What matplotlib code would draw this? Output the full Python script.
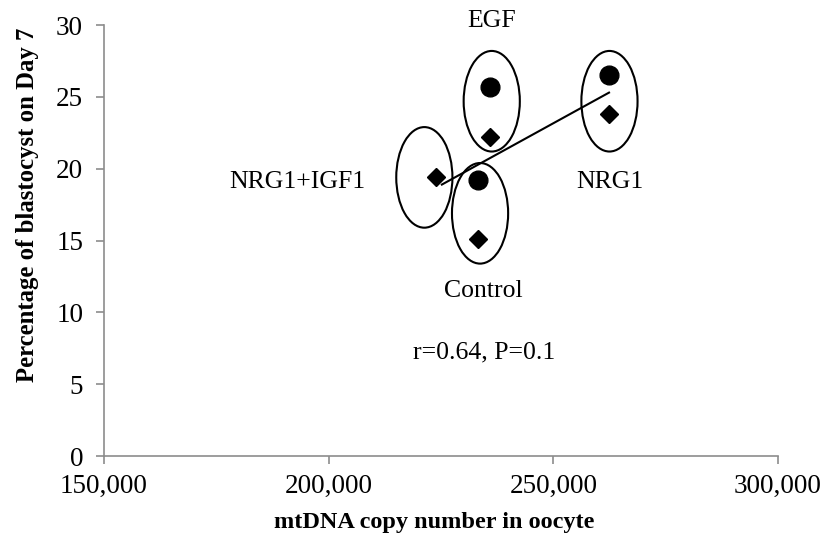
import numpy as np
import matplotlib
matplotlib.use("Agg")
import matplotlib.pyplot as plt
from matplotlib.patches import Ellipse
from matplotlib.ticker import FuncFormatter

# group data
groups = ["NRG1+IGF1", "EGF", "Control", "NRG1"]
mtdna = [223900, 236000, 233300, 262300]
circle_y = [None, 25.7, 19.2, 26.5]
diamond_y = [19.4, 22.2, 15.1, 23.8]

# ellipses drawn round each group (centre x, centre y)
ell_x = [221300, 236300, 233700, 262500]
ell_y = [19.4, 24.7, 16.9, 24.7]
ell_w = 12500
ell_h = 7.0

# trend line end points
trend_x = [225200, 262400]
trend_y = [18.9, 25.3]

# label positions
label_x = [193000, 236300, 234500, 262600]
label_y = [19.1, 30.3, 11.5, 19.1]

plt.rcParams['font.family'] = ['Liberation Serif', 'DejaVu Serif']

fig = plt.figure(figsize=(8.25, 5.45), dpi=100)
ax = fig.add_axes([0.126, 0.163, 0.817, 0.791])

for i in range(len(groups)):
    ax.add_patch(Ellipse((ell_x[i], ell_y[i]), ell_w, ell_h, fill=False,
                         edgecolor='black', linewidth=1.5, zorder=2))

ax.plot(trend_x, trend_y, color='black', linewidth=1.5, zorder=3)

cx = [mtdna[i] for i in range(len(groups)) if circle_y[i] is not None]
cy = [c for c in circle_y if c is not None]
ax.plot(cx, cy, 'o', color='black', markersize=13.5, linestyle='none', zorder=4)
ax.plot(mtdna, diamond_y, 'D', color='black', markersize=9, linestyle='none', zorder=4)

for i in range(len(groups)):
    ax.text(label_x[i], label_y[i], groups[i], ha='center', va='center',
            fontsize=18.5, clip_on=False)

ax.text(234500, 7.2, "r=0.64, P=0.1", ha='center', va='center', fontsize=18.5)

ax.set_xlim(150000, 300000)
ax.set_ylim(0, 30)
ax.set_xticks([150000, 200000, 250000, 300000])
ax.set_yticks([0, 5, 10, 15, 20, 25, 30])
ax.xaxis.set_major_formatter(FuncFormatter(lambda v, p: f"{int(v):,}"))

for s in ['top', 'right']:
    ax.spines[s].set_visible(False)
for s in ['left', 'bottom']:
    ax.spines[s].set_color('#8c8c8c')
    ax.spines[s].set_linewidth(1.2)
ax.tick_params(axis='both', direction='out', length=6, width=1.2, color='#8c8c8c',
               labelsize=19.5)
ax.tick_params(axis='x', pad=7)
ax.tick_params(axis='y', pad=9)

ax.set_xlabel("mtDNA copy number in oocyte", fontsize=17.5, fontweight='bold')
ax.set_ylabel("Percentage of blastocyst on Day 7", fontsize=17.8, fontweight='bold', labelpad=12)
ax.xaxis.set_label_coords(0.49, -0.13)
ax.yaxis.label.set_y(0.582)

fig.savefig("out.png", dpi=100)
